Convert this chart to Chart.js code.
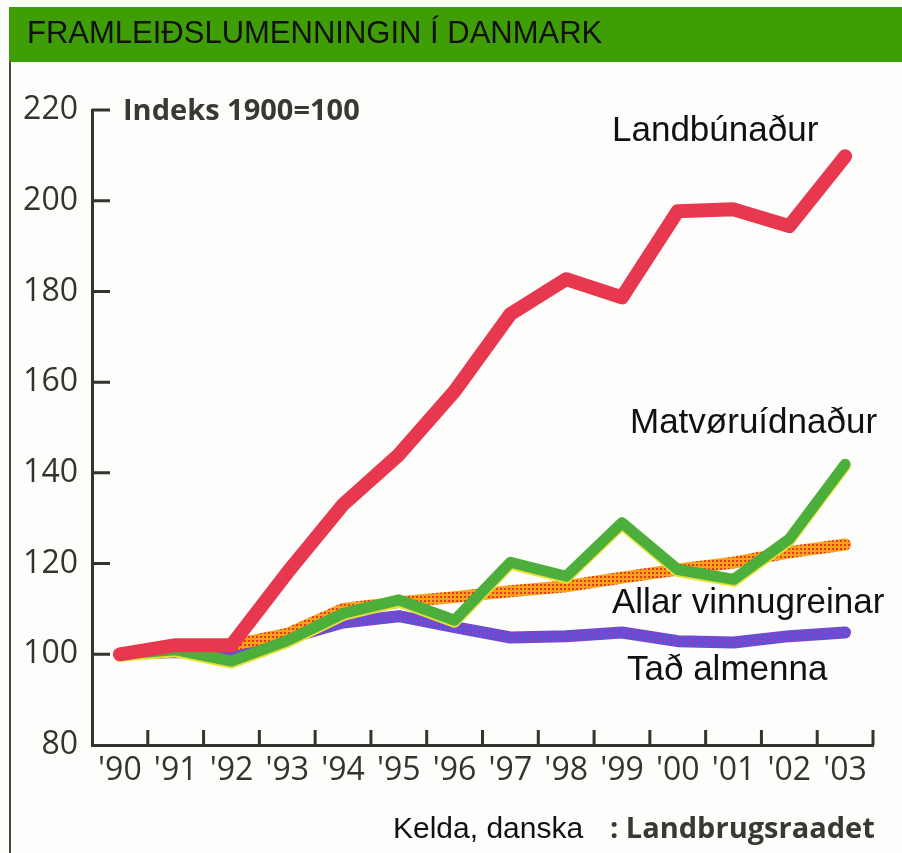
<!DOCTYPE html>
<html lang="is">
<head>
    <meta charset="UTF-8">
    <title>Framleiðslumenningin í Danmark</title>
    <script src="https://cdn.jsdelivr.net/npm/chart.js"></script>
    <style>
        html, body { margin: 0; padding: 0; background: #fdfdfb; }
        #wrap { position: relative; width: 902px; height: 853px; }
    </style>
</head>
<body>
<div id="wrap">
    <canvas id="lineChart" width="902" height="853"></canvas>
</div>
<script>
    // years on the x axis
    var years = ["'90", "'91", "'92", "'93", "'94", "'95", "'96", "'97", "'98", "'99", "'00", "'01", "'02", "'03"];

    // index values
    var landbunadur    = [100, 102, 102, 118, 133, 144, 158, 175, 182.7, 178.7, 197.7, 198.1, 194.4, 209.8];
    var matvoruidnadur = [100, 101, 98.5, 103, 109, 112, 107.5, 120.3, 117.2, 129, 118.7, 116.5, 125.4, 141.9];
    var allarVinnugr   = [100, 101, 102, 104.5, 110, 111.5, 112.6, 113.9, 115, 116.9, 118.7, 120.2, 122.5, 124.2];
    var tadAlmenna     = [100, 100.5, 100, 103.5, 107, 108.4, 106, 103.7, 104, 104.8, 102.9, 102.6, 104, 104.8];

    var yMin = 80, yMax = 220, yStep = 20;

    var ink = '#36322d';

    // halftone looking fills for the two screened lines
    function dotPattern(bg, dot) {
        var c = document.createElement('canvas');
        c.width = 4; c.height = 4;
        var g = c.getContext('2d');
        g.fillStyle = bg;
        g.fillRect(0, 0, 4, 4);
        g.fillStyle = dot;
        g.fillRect(0, 0, 2, 2);
        return g.createPattern(c, 'repeat');
    }

    var decorations = {
        id: 'decorations',
        beforeDraw: function (chart) {
            var ctx = chart.ctx;
            ctx.save();
            // green heading bar
            ctx.fillStyle = '#3f9e05';
            ctx.fillRect(9, 7, 893, 55);
            ctx.fillStyle = '#111';
            ctx.font = '31px "Liberation Sans", Arial, sans-serif';
            ctx.textBaseline = 'alphabetic';
            ctx.fillText('FRAMLEIÐSLUMENNINGIN Í DANMARK', 27, 43);
            // frame line on the left
            ctx.strokeStyle = '#4a4640';
            ctx.lineWidth = 2;
            ctx.beginPath();
            ctx.moveTo(10, 62);
            ctx.lineTo(10, 853);
            ctx.stroke();
            ctx.restore();
        },
        beforeDatasetDraw: function (chart, args) {
            // yellow edge under the green line
            if (args.index === 1) {
                chart.ctx.save();
                chart.ctx.shadowColor = '#e6e23a';
                chart.ctx.shadowOffsetY = 2;
                chart.ctx.shadowBlur = 0;
            }
        },
        afterDatasetDraw: function (chart, args) {
            if (args.index === 1) chart.ctx.restore();
        },
        afterDraw: function (chart) {
            var ctx = chart.ctx;
            var x = chart.scales.x, y = chart.scales.y;
            var area = chart.chartArea;
            ctx.save();
            ctx.strokeStyle = ink;
            ctx.lineWidth = 3;
            ctx.beginPath();
            // inward ticks on the x axis, at the year boundaries
            var half = (x.getPixelForValue(1) - x.getPixelForValue(0)) / 2;
            for (var i = 1; i <= years.length; i++) {
                var px = x.getPixelForValue(i - 1) + half;
                ctx.moveTo(px, area.bottom);
                ctx.lineTo(px, area.bottom - 15);
            }
            // inward ticks on the y axis
            y.ticks.forEach(function (t) {
                if (t.value === yMin) return;
                var py = y.getPixelForValue(t.value);
                ctx.moveTo(area.left, py);
                ctx.lineTo(area.left + 18, py);
            });
            ctx.stroke();

            ctx.textBaseline = 'alphabetic';
            ctx.fillStyle = '#3a3834';
            ctx.font = 'bold 29px "Open Sans", sans-serif';
            ctx.fillText('Indeks 1900=100', 123, 120);

            ctx.fillStyle = '#111';
            ctx.font = '35px "Liberation Sans", Arial, sans-serif';
            ctx.fillText('Landbúnaður', 612, 141);
            ctx.fillText('Matvøruídnaður', 630, 433);
            ctx.fillText('Allar vinnugreinar', 612, 613);
            ctx.fillText('Tað almenna', 627, 680);

            ctx.font = '30px "Liberation Sans", Arial, sans-serif';
            ctx.fillText('Kelda, danska', 393, 838);
            ctx.fillStyle = '#3a3834';
            ctx.font = 'bold 29px "Open Sans", sans-serif';
            ctx.fillText(': Landbrugsraadet', 610, 838);
            ctx.restore();
        }
    };

    var ctx = document.getElementById('lineChart').getContext('2d');
    var chart = new Chart(ctx, {
        type: 'line',
        data: {
            labels: years,
            datasets: [{
                label: 'Landbúnaður',
                data: landbunadur,
                borderColor: '#e8384f',
                borderWidth: 14
            }, {
                label: 'Matvøruídnaður',
                data: matvoruidnadur,
                borderColor: '#4caf3c',
                borderWidth: 11
            }, {
                label: 'Allar vinnugreinar',
                data: allarVinnugr,
                borderColor: dotPattern('#f9a416', '#e63a26'),
                borderWidth: 12
            }, {
                label: 'Tað almenna',
                data: tadAlmenna,
                borderColor: dotPattern('#5b52d6', '#9a3cc4'),
                borderWidth: 12
            }]
        },
        options: {
            responsive: false,
            animation: false,
            layout: { padding: { top: 110, right: 29, left: 0, bottom: 0 } },
            elements: {
                point: { radius: 0 },
                line: { tension: 0, borderCapStyle: 'round', borderJoinStyle: 'round', fill: false }
            },
            plugins: {
                legend: { display: false },
                tooltip: { enabled: false }
            },
            scales: {
                x: {
                    type: 'category',
                    offset: true,
                    grid: { display: true, drawOnChartArea: false, drawTicks: false },
                    border: { display: true, color: ink, width: 3 },
                    ticks: {
                        color: ink,
                        padding: 7,
                        font: { family: '"Open Sans", sans-serif', size: 32 },
                        maxRotation: 0,
                        autoSkip: false
                    },
                    afterFit: function (s) { s.height = 108; }
                },
                y: {
                    min: yMin,
                    max: yMax,
                    grid: { display: true, drawOnChartArea: false, drawTicks: false },
                    border: { display: true, color: ink, width: 3 },
                    ticks: {
                        stepSize: yStep,
                        color: ink,
                        padding: 14,
                        font: { family: '"Open Sans", sans-serif', size: 32 }
                    },
                    afterFit: function (s) { s.width = 92; }
                }
            }
        },
        plugins: [decorations]
    });
</script>
</body>
</html>
